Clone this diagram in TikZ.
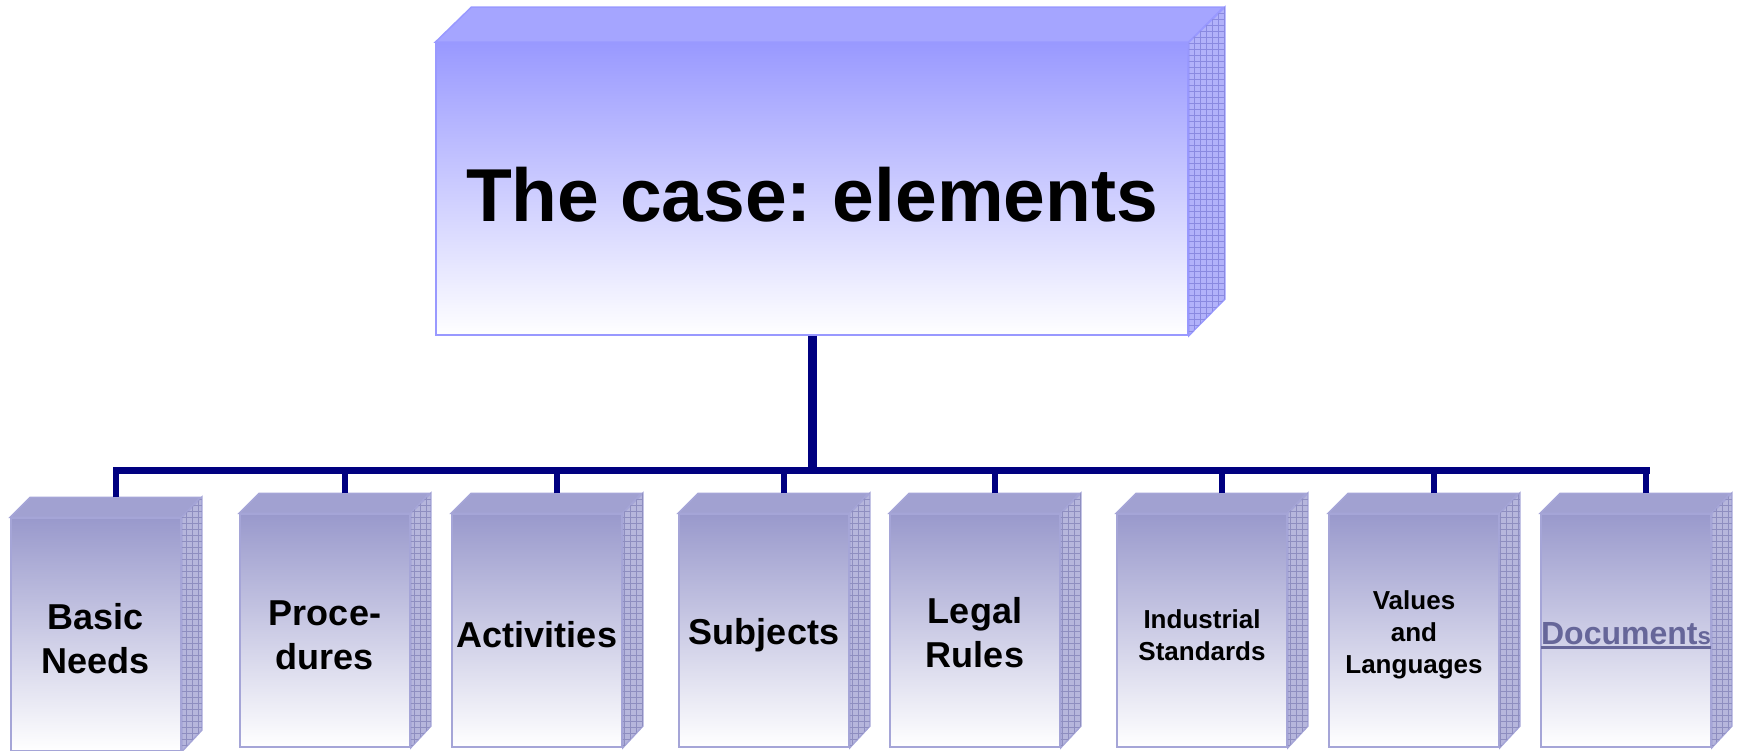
\documentclass[tikz,border=0pt]{standalone}
\usepackage{fontspec}
\setmainfont{Liberation Sans}
\frenchspacing
\usetikzlibrary{patterns.meta}

\definecolor{caseedge}{RGB}{153,153,255}
\definecolor{casefront}{RGB}{153,153,255}
\definecolor{casetop}{RGB}{165,165,255}
\definecolor{caseside}{RGB}{178,178,250}
\definecolor{casegrid}{RGB}{138,138,225}
\definecolor{elemedge}{RGB}{165,165,215}
\definecolor{elemfront}{RGB}{153,153,204}
\definecolor{elemtop}{RGB}{161,161,209}
\definecolor{elemside}{RGB}{182,182,220}
\definecolor{elemgrid}{RGB}{142,142,192}
\definecolor{treeline}{RGB}{0,0,128}
\definecolor{doclink}{RGB}{102,102,153}

% pushes a label down a little in its box
\newcommand{\lift}[1]{\rule{0pt}{\dimexpr0.73em+#1\relax}}

\tikzset{
  casebox/.style={draw=caseedge, line width=1.5pt, top color=casefront, bottom color=white,
    minimum width=752, minimum height=292, inner sep=0pt,
    font=\bfseries\fontsize{75}{80}\selectfont},
  elembox/.style={draw=elemedge, line width=1.5pt, top color=elemfront, bottom color=white,
    minimum width=170, minimum height=233, inner sep=0pt, align=center,
    font=\bfseries\fontsize{36}{44}\selectfont},
  smalltext/.style={font=\bfseries\fontsize{26}{32}\selectfont},
  doctext/.style={text=doclink, font=\bfseries\fontsize{32}{36}\selectfont},
  gridface/.style={postaction={pattern={Lines[angle=0,distance=6pt,line width=0.7pt]}, pattern color=#1},
    postaction={pattern={Lines[angle=90,distance=6pt,line width=0.7pt]}, pattern color=#1}},
  trunk/.style={treeline, line width=9pt},
  bar/.style={treeline, line width=7pt, line cap=rect},
  drop/.style={treeline, line width=5.5pt}
}

\begin{document}
\begin{tikzpicture}[x=1pt, y=-1pt]
\useasboundingbox (0,0) rectangle (1738,751);

\coordinate (bar) at (0,470);

% the case
\node[casebox] (case) at (812,189) {\lift{11pt}The case: elements};
\draw[draw=caseedge, line width=1.5pt, fill=casetop] (case.north west) -- ++(36,-35) -- ++(752,0) -- (case.north east) -- cycle;
\draw[draw=caseedge, line width=1.5pt, fill=caseside, gridface=casegrid] (case.north east) -- ++(36,-35) -- ++(0,292) -- (case.south east) -- cycle;

% elements
\node[elembox] (needs) at (96,634.5) {\lift{9pt}Basic\\Needs};
\node[elembox] (proc) at (325,630.5) {\lift{9pt}Proce-\\dures};
\node[elembox] (act) at (537,630.5) {\lift{9pt}Activities};
\node[elembox] (subj) at (764,630.5) {\lift{9pt}Subjects};
\node[elembox] (legal) at (975,630.5) {\lift{5pt}Legal\\Rules};
\node[elembox, smalltext] (ind) at (1202,630.5) {\lift{9pt}Industrial\\Standards};
\node[elembox, smalltext] (val) at (1414,630.5) {\lift{9pt}Values\\and\\Languages};
\node[elembox, doctext] (docs) at (1626,630.5) {\vtop{\hbox{\lift{9pt}Document{\fontsize{24}{24}\selectfont s}}\kern2pt\hrule height 3pt}};

\foreach \b in {needs,proc,act,subj,legal,ind,val,docs}{
  \draw[draw=elemedge, line width=1.5pt, fill=elemtop] (\b.north west) -- ++(20,-20) -- ++(170,0) -- (\b.north east) -- cycle;
  \draw[draw=elemedge, line width=1.5pt, fill=elemside, gridface=elemgrid] (\b.north east) -- ++(20,-20) -- ++(0,233) -- (\b.south east) -- cycle;
  \coordinate (\b-top) at ([xshift=20pt,yshift=20pt]\b.north);
  \draw[drop] (\b-top) -- (\b-top |- bar);
}

% tree
\draw[trunk] (case.south) -- (case.south |- bar);
\draw[bar] (needs-top |- bar) -- (docs-top |- bar);

\end{tikzpicture}
\end{document}
